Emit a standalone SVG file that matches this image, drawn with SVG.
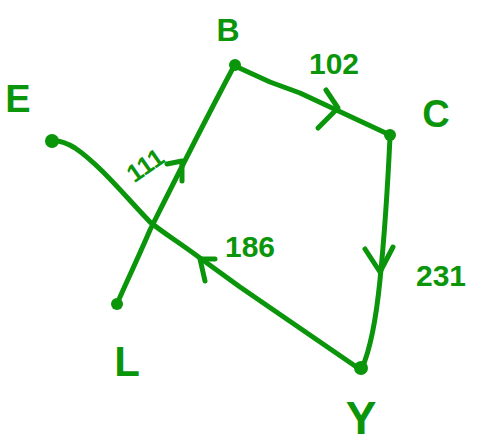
<svg xmlns="http://www.w3.org/2000/svg" width="478" height="448" viewBox="0 0 478 448">
<style>
.e{fill:none;stroke:#0a950a;stroke-width:5;stroke-linecap:round;stroke-linejoin:round}
.d{fill:#0a950a}
.t{fill:#0a950a;font-family:"Liberation Sans",Arial,sans-serif;font-weight:bold}
</style>
<rect width="478" height="448" fill="#fff"/>
<g id="edges">
  <g id="edge-L-B"><path class="e" d="M117,304 C122,292 138,258 150,230 C165,200 200,130 233,68"/><path class="e" d="M167,164 L182,161 L182,181"/><text class="t" x="145" y="174" font-size="25" transform="rotate(-35 145 165)" text-anchor="middle">111</text></g>
  <g id="edge-B-C"><path class="e" d="M235,66 L270,82 L300,93 L390,135"/><path class="e" d="M326,90 L338,108 L318,128"/><text class="t" x="334" y="74" font-size="30" text-anchor="middle">102</text></g>
  <g id="edge-C-Y"><path class="e" d="M390,137 C388,180 384,240 380,280 C376,320 370,350 362,368"/><path class="e" d="M365,249 L380,272 L393,247"/><text class="t" x="441" y="286" font-size="30" text-anchor="middle">231</text></g>
  <g id="edge-Y-E"><path class="e" d="M358,368 L240,287 L200,258 C180,243 162,232 150,222 C125,196 100,165 75,148 C65,142 58,140 52,141"/><path class="e" d="M215,259 L200,259 L205,281"/><text class="t" x="250" y="257" font-size="30" text-anchor="middle">186</text></g>
</g>
<g id="node-B"><circle class="d" cx="235" cy="65" r="6"/><text class="t" x="228" y="41" font-size="32" text-anchor="middle">B</text></g>
<g id="node-C"><circle class="d" cx="390" cy="135" r="6"/><text class="t" x="436" y="127" font-size="38" text-anchor="middle">C</text></g>
<g id="node-E"><circle class="d" cx="52" cy="141" r="7"/><text class="t" x="18" y="112" font-size="38" text-anchor="middle">E</text></g>
<g id="node-L"><circle class="d" cx="117" cy="304" r="6"/><text class="t" x="127" y="376" font-size="42" text-anchor="middle">L</text></g>
<g id="node-Y"><circle class="d" cx="361" cy="368" r="7"/><text class="t" x="361" y="434" font-size="46" text-anchor="middle">Y</text></g>
</svg>
